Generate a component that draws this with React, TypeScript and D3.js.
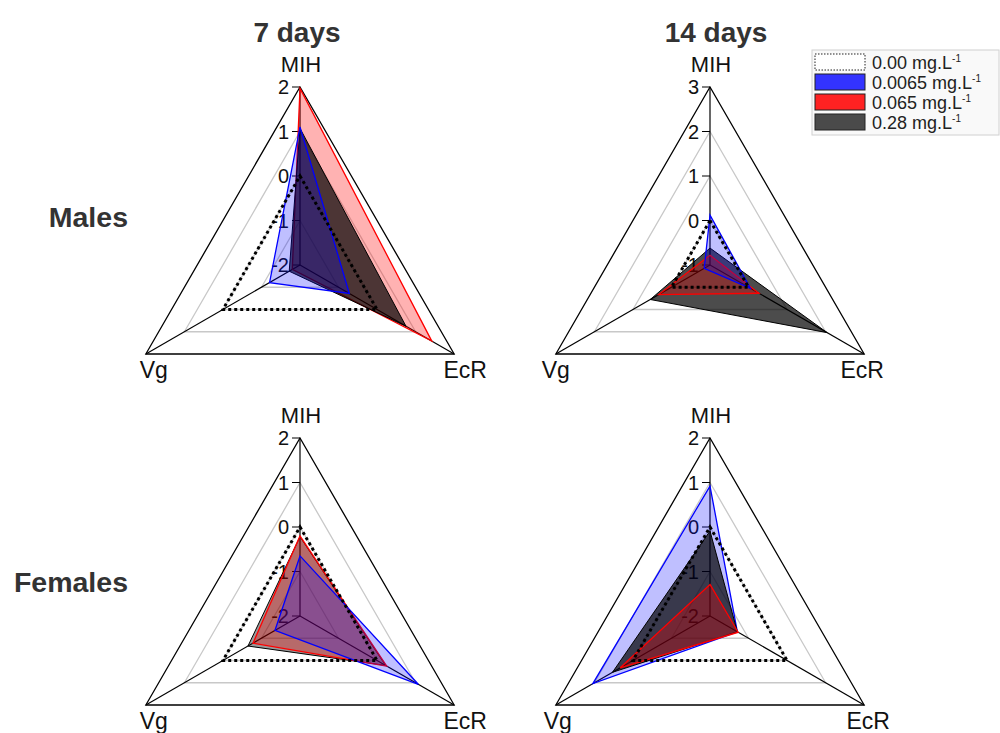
import React from "react";
import * as d3 from "d3";

// axis order: MIH (top), EcR (lower right), Vg (lower left)
const axisNames = ["MIH", "EcR", "Vg"];
const doseLabels = ["0.00", "0.0065", "0.065", "0.28"];
const colTitles = ["7 days", "14 days"];
const rowTitles = ["Males", "Females"];

// values read per panel: [MIH, EcR, Vg]
const males7Ctrl = [0, 0, 0];
const males7Low = [1.1, -0.72, -1.21];
const males7Mid = [1.97, 1.42, -1.8];
const males7High = [1.07, 0.75, -1.72];

const males14Ctrl = [0, 0, 0];
const males14Low = [0.12, 0.05, -0.85];
const males14Mid = [-0.78, 0.27, 0.33];
const males14High = [-0.62, 2.04, 0.55];

const females7Ctrl = [0, 0, 0];
const females7Low = [-0.65, 1.07, -1.35];
const females7Mid = [-0.2, 0.25, -0.78];
const females7High = [-0.22, 0.22, -0.65];

const females14Ctrl = [0, 0, 0];
const females14Low = [0.92, -1.29, 1.04];
const females14Mid = [-1.29, -1.27, 0.33];
const females14High = [-0.09, -1.29, 0.53];

const ticksA = [-2, -1, 0, 1, 2];
const ticksB = [-1, 0, 1, 2, 3];

const R = 178;
const font = "'Liberation Sans', Arial, sans-serif";

// series index: 0 ctrl, 1 low, 2 mid, 3 high ; order = paint order
const panels = [
  { cx: 300, cy: 265, ticks: ticksA, series: [males7Ctrl, males7Low, males7Mid, males7High], order: [2, 3, 1, 0], darkAlpha: 0.7, lab: [11, 8] },
  { cx: 710, cy: 265, ticks: ticksB, series: [males14Ctrl, males14Low, males14Mid, males14High], order: [3, 2, 1, 0], darkAlpha: 0.7, lab: [-2, 0] },
  { cx: 300, cy: 616, ticks: ticksA, series: [females7Ctrl, females7Low, females7Mid, females7High], order: [3, 2, 1, 0], darkAlpha: 0.4, lab: [11, 8] },
  { cx: 710, cy: 616, ticks: ticksA, series: [females14Ctrl, females14Low, females14Mid, females14High], order: [1, 3, 2, 0], darkAlpha: 0.7, lab: [4, 2] },
];

const styles = [
  { fill: "none", stroke: "#000", width: 3, dash: "3 3" },
  { fill: "rgba(0,0,255,0.25)", stroke: "#0000ff", width: 1.3, dash: null },
  { fill: "rgba(255,0,0,0.3)", stroke: "#ff0000", width: 1.3, dash: null },
  { fill: "#000", stroke: "#000", width: 1, dash: null },
];
const swatchFill = ["#fff", "#3333ff", "#ff2222", "#4a4a4a"];

const angle = (i: number) => -Math.PI / 2 + (i * 2 * Math.PI) / 3;

function Radar({ p }: { p: any }) {
  const r = d3.scaleLinear().domain([p.ticks[0], p.ticks[p.ticks.length - 1]]).range([0, R]);
  const pt = (i: number, v: number): [number, number] => [
    p.cx + r(v) * Math.cos(angle(i)),
    p.cy + r(v) * Math.sin(angle(i)),
  ];
  const line = d3.line().curve(d3.curveLinearClosed);
  const levels = p.ticks.slice(1);
  const top = p.ticks[p.ticks.length - 1];
  return (
    <g>
      {levels.map((t: number, k: number) => (
        <path
          key={t}
          d={line(axisNames.map((_, i) => pt(i, t)))!}
          fill="none"
          stroke={k === levels.length - 1 ? "#000" : "#c8c8c8"}
          strokeWidth={1.3}
        />
      ))}
      {axisNames.map((_, i) => {
        const [x, y] = pt(i, top);
        return <line key={i} x1={p.cx} y1={p.cy} x2={x} y2={y} stroke="#000" strokeWidth={1.2} />;
      })}
      {p.ticks.map((t: number) => (
        <g key={t}>
          <line x1={p.cx - 8} x2={p.cx} y1={p.cy - r(t)} y2={p.cy - r(t)} stroke="#000" strokeWidth={1} />
          <text x={p.cx - 11} y={p.cy - r(t)} dy="0.36em" textAnchor="end" fontSize={20} fontFamily={font} fill="#111">
            {t}
          </text>
        </g>
      ))}
      {p.order.map((s: number) => {
        const st = styles[s];
        const vals = p.series[s];
        return (
          <path
            key={s}
            d={line(vals.map((v: number, i: number) => pt(i, v)))!}
            fill={st.fill}
            fillOpacity={s === 3 ? p.darkAlpha : 1}
            stroke={st.stroke}
            strokeWidth={st.width}
            strokeDasharray={st.dash ?? undefined}
          />
        );
      })}
      <text x={p.cx + 1} y={p.cy - R - 15} textAnchor="middle" fontSize={22} fontFamily={font} fill="#111">
        {axisNames[0]}
      </text>
      <text x={pt(1, top)[0] + p.lab[0]} y={pt(1, top)[1] + 24} textAnchor="middle" fontSize={23} fontFamily={font} fill="#111">
        {axisNames[1]}
      </text>
      <text x={pt(2, top)[0] + p.lab[1]} y={pt(2, top)[1] + 24} textAnchor="middle" fontSize={23} fontFamily={font} fill="#111">
        {axisNames[2]}
      </text>
    </g>
  );
}

export default function App() {
  return (
    <svg width={1000} height={733} style={{ position: "absolute", left: 0, top: 0, background: "#fff" }}>
      <rect width={1000} height={733} fill="#fff" />
      {colTitles.map((t, i) => (
        <text key={t} x={[297, 716][i]} y={42} textAnchor="middle" fontSize={28} fontWeight="bold" fontFamily={font} fill="#333">
          {t}
        </text>
      ))}
      {rowTitles.map((t, i) => (
        <text key={t} x={128} y={[227, 592][i]} textAnchor="end" fontSize={28.5} fontWeight="bold" fontFamily={font} fill="#333">
          {t}
        </text>
      ))}
      {panels.map((p, i) => (
        <Radar key={i} p={p} />
      ))}
      <g>
        <rect x={812} y={50} width={187} height={85} fill="#f9f9f9" stroke="#d0d0d0" />
        {doseLabels.map((d, i) => (
          <g key={d} transform={`translate(815,${54 + i * 20})`}>
            <rect
              width={50}
              height={16}
              fill={swatchFill[i]}
              stroke="#222"
              strokeWidth={1}
              strokeDasharray={i === 0 ? "1.5 1.5" : undefined}
            />
            <text x={57} y={15} fontSize={18} fontFamily={font} fill="#222">
              {d} mg.L
              <tspan fontSize={10} dy={-7}>-1</tspan>
            </text>
          </g>
        ))}
      </g>
    </svg>
  );
}
